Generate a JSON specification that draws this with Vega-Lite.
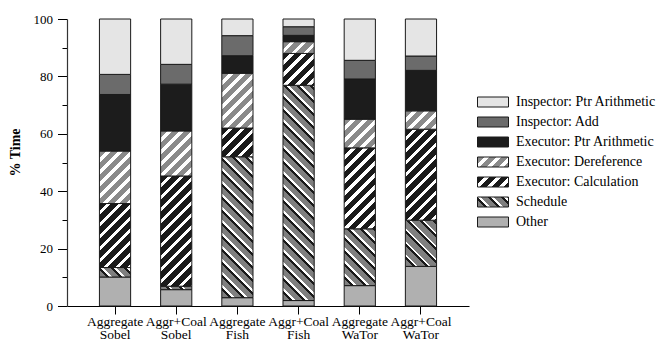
{
  "$schema": "https://vega.github.io/schema/vega-lite/v6.json",
  "width": 402,
  "height": 287,
  "autosize": "none",
  "padding": {"left": 67, "top": 19, "right": 190, "bottom": 36},
  "background": "white",
  "config": {"view": {"stroke": null}, "font": "Liberation Serif"},
  "params": [
    {"name": "calcStops", "value": [
      {"offset":0,"color":"#1a1a1a"},{"offset":0.031,"color":"#1a1a1a"},{"offset":0.031,"color":"#ffffff"},{"offset":0.05,"color":"#ffffff"},
      {"offset":0.05,"color":"#1a1a1a"},{"offset":0.081,"color":"#1a1a1a"},{"offset":0.081,"color":"#ffffff"},{"offset":0.1,"color":"#ffffff"},
      {"offset":0.1,"color":"#1a1a1a"},{"offset":0.131,"color":"#1a1a1a"},{"offset":0.131,"color":"#ffffff"},{"offset":0.15,"color":"#ffffff"},
      {"offset":0.15,"color":"#1a1a1a"},{"offset":0.181,"color":"#1a1a1a"},{"offset":0.181,"color":"#ffffff"},{"offset":0.2,"color":"#ffffff"},
      {"offset":0.2,"color":"#1a1a1a"},{"offset":0.231,"color":"#1a1a1a"},{"offset":0.231,"color":"#ffffff"},{"offset":0.25,"color":"#ffffff"},
      {"offset":0.25,"color":"#1a1a1a"},{"offset":0.281,"color":"#1a1a1a"},{"offset":0.281,"color":"#ffffff"},{"offset":0.3,"color":"#ffffff"},
      {"offset":0.3,"color":"#1a1a1a"},{"offset":0.331,"color":"#1a1a1a"},{"offset":0.331,"color":"#ffffff"},{"offset":0.35,"color":"#ffffff"},
      {"offset":0.35,"color":"#1a1a1a"},{"offset":0.381,"color":"#1a1a1a"},{"offset":0.381,"color":"#ffffff"},{"offset":0.4,"color":"#ffffff"},
      {"offset":0.4,"color":"#1a1a1a"},{"offset":0.431,"color":"#1a1a1a"},{"offset":0.431,"color":"#ffffff"},{"offset":0.45,"color":"#ffffff"},
      {"offset":0.45,"color":"#1a1a1a"},{"offset":0.481,"color":"#1a1a1a"},{"offset":0.481,"color":"#ffffff"},{"offset":0.5,"color":"#ffffff"},
      {"offset":0.5,"color":"#1a1a1a"},{"offset":0.531,"color":"#1a1a1a"},{"offset":0.531,"color":"#ffffff"},{"offset":0.55,"color":"#ffffff"},
      {"offset":0.55,"color":"#1a1a1a"},{"offset":0.581,"color":"#1a1a1a"},{"offset":0.581,"color":"#ffffff"},{"offset":0.6,"color":"#ffffff"},
      {"offset":0.6,"color":"#1a1a1a"},{"offset":0.631,"color":"#1a1a1a"},{"offset":0.631,"color":"#ffffff"},{"offset":0.65,"color":"#ffffff"}
    ]},
    {"name": "derefStops", "value": [
      {"offset":0,"color":"#8a8a8a"},{"offset":0.031,"color":"#8a8a8a"},{"offset":0.031,"color":"#ffffff"},{"offset":0.05,"color":"#ffffff"},
      {"offset":0.05,"color":"#8a8a8a"},{"offset":0.081,"color":"#8a8a8a"},{"offset":0.081,"color":"#ffffff"},{"offset":0.1,"color":"#ffffff"},
      {"offset":0.1,"color":"#8a8a8a"},{"offset":0.131,"color":"#8a8a8a"},{"offset":0.131,"color":"#ffffff"},{"offset":0.15,"color":"#ffffff"},
      {"offset":0.15,"color":"#8a8a8a"},{"offset":0.181,"color":"#8a8a8a"},{"offset":0.181,"color":"#ffffff"},{"offset":0.2,"color":"#ffffff"},
      {"offset":0.2,"color":"#8a8a8a"},{"offset":0.231,"color":"#8a8a8a"},{"offset":0.231,"color":"#ffffff"},{"offset":0.25,"color":"#ffffff"},
      {"offset":0.25,"color":"#8a8a8a"},{"offset":0.281,"color":"#8a8a8a"},{"offset":0.281,"color":"#ffffff"},{"offset":0.3,"color":"#ffffff"},
      {"offset":0.3,"color":"#8a8a8a"},{"offset":0.331,"color":"#8a8a8a"},{"offset":0.331,"color":"#ffffff"},{"offset":0.35,"color":"#ffffff"},
      {"offset":0.35,"color":"#8a8a8a"},{"offset":0.381,"color":"#8a8a8a"},{"offset":0.381,"color":"#ffffff"},{"offset":0.4,"color":"#ffffff"},
      {"offset":0.4,"color":"#8a8a8a"},{"offset":0.431,"color":"#8a8a8a"},{"offset":0.431,"color":"#ffffff"},{"offset":0.45,"color":"#ffffff"}
    ]},
    {"name": "schedStops", "value": [
      {"offset":0,"color":"#7f7f7f"},{"offset":0.028,"color":"#7f7f7f"},{"offset":0.028,"color":"#1a1a1a"},{"offset":0.039,"color":"#1a1a1a"},{"offset":0.039,"color":"#ffffff"},{"offset":0.05,"color":"#ffffff"},
      {"offset":0.05,"color":"#7f7f7f"},{"offset":0.078,"color":"#7f7f7f"},{"offset":0.078,"color":"#1a1a1a"},{"offset":0.089,"color":"#1a1a1a"},{"offset":0.089,"color":"#ffffff"},{"offset":0.1,"color":"#ffffff"},
      {"offset":0.1,"color":"#7f7f7f"},{"offset":0.128,"color":"#7f7f7f"},{"offset":0.128,"color":"#1a1a1a"},{"offset":0.139,"color":"#1a1a1a"},{"offset":0.139,"color":"#ffffff"},{"offset":0.15,"color":"#ffffff"},
      {"offset":0.15,"color":"#7f7f7f"},{"offset":0.178,"color":"#7f7f7f"},{"offset":0.178,"color":"#1a1a1a"},{"offset":0.189,"color":"#1a1a1a"},{"offset":0.189,"color":"#ffffff"},{"offset":0.2,"color":"#ffffff"},
      {"offset":0.2,"color":"#7f7f7f"},{"offset":0.228,"color":"#7f7f7f"},{"offset":0.228,"color":"#1a1a1a"},{"offset":0.239,"color":"#1a1a1a"},{"offset":0.239,"color":"#ffffff"},{"offset":0.25,"color":"#ffffff"},
      {"offset":0.25,"color":"#7f7f7f"},{"offset":0.278,"color":"#7f7f7f"},{"offset":0.278,"color":"#1a1a1a"},{"offset":0.289,"color":"#1a1a1a"},{"offset":0.289,"color":"#ffffff"},{"offset":0.3,"color":"#ffffff"},
      {"offset":0.3,"color":"#7f7f7f"},{"offset":0.328,"color":"#7f7f7f"},{"offset":0.328,"color":"#1a1a1a"},{"offset":0.339,"color":"#1a1a1a"},{"offset":0.339,"color":"#ffffff"},{"offset":0.35,"color":"#ffffff"},
      {"offset":0.35,"color":"#7f7f7f"},{"offset":0.378,"color":"#7f7f7f"},{"offset":0.378,"color":"#1a1a1a"},{"offset":0.389,"color":"#1a1a1a"},{"offset":0.389,"color":"#ffffff"},{"offset":0.4,"color":"#ffffff"},
      {"offset":0.4,"color":"#7f7f7f"},{"offset":0.428,"color":"#7f7f7f"},{"offset":0.428,"color":"#1a1a1a"},{"offset":0.439,"color":"#1a1a1a"},{"offset":0.439,"color":"#ffffff"},{"offset":0.45,"color":"#ffffff"},
      {"offset":0.45,"color":"#7f7f7f"},{"offset":0.478,"color":"#7f7f7f"},{"offset":0.478,"color":"#1a1a1a"},{"offset":0.489,"color":"#1a1a1a"},{"offset":0.489,"color":"#ffffff"},{"offset":0.5,"color":"#ffffff"},
      {"offset":0.5,"color":"#7f7f7f"},{"offset":0.528,"color":"#7f7f7f"},{"offset":0.528,"color":"#1a1a1a"},{"offset":0.539,"color":"#1a1a1a"},{"offset":0.539,"color":"#ffffff"},{"offset":0.55,"color":"#ffffff"},
      {"offset":0.55,"color":"#7f7f7f"},{"offset":0.578,"color":"#7f7f7f"},{"offset":0.578,"color":"#1a1a1a"},{"offset":0.589,"color":"#1a1a1a"},{"offset":0.589,"color":"#ffffff"},{"offset":0.6,"color":"#ffffff"},
      {"offset":0.6,"color":"#7f7f7f"},{"offset":0.628,"color":"#7f7f7f"},{"offset":0.628,"color":"#1a1a1a"},{"offset":0.639,"color":"#1a1a1a"},{"offset":0.639,"color":"#ffffff"},{"offset":0.65,"color":"#ffffff"},
      {"offset":0.65,"color":"#7f7f7f"},{"offset":0.678,"color":"#7f7f7f"},{"offset":0.678,"color":"#1a1a1a"},{"offset":0.689,"color":"#1a1a1a"},{"offset":0.689,"color":"#ffffff"},{"offset":0.7,"color":"#ffffff"},
      {"offset":0.7,"color":"#7f7f7f"},{"offset":0.728,"color":"#7f7f7f"},{"offset":0.728,"color":"#1a1a1a"},{"offset":0.739,"color":"#1a1a1a"},{"offset":0.739,"color":"#ffffff"},{"offset":0.75,"color":"#ffffff"},
      {"offset":0.75,"color":"#7f7f7f"},{"offset":0.778,"color":"#7f7f7f"},{"offset":0.778,"color":"#1a1a1a"},{"offset":0.789,"color":"#1a1a1a"},{"offset":0.789,"color":"#ffffff"},{"offset":0.8,"color":"#ffffff"},
      {"offset":0.8,"color":"#7f7f7f"},{"offset":0.828,"color":"#7f7f7f"},{"offset":0.828,"color":"#1a1a1a"},{"offset":0.839,"color":"#1a1a1a"},{"offset":0.839,"color":"#ffffff"},{"offset":0.85,"color":"#ffffff"},
      {"offset":0.85,"color":"#7f7f7f"},{"offset":0.878,"color":"#7f7f7f"},{"offset":0.878,"color":"#1a1a1a"},{"offset":0.889,"color":"#1a1a1a"},{"offset":0.889,"color":"#ffffff"},{"offset":0.9,"color":"#ffffff"},
      {"offset":0.9,"color":"#7f7f7f"},{"offset":0.928,"color":"#7f7f7f"},{"offset":0.928,"color":"#1a1a1a"},{"offset":0.939,"color":"#1a1a1a"},{"offset":0.939,"color":"#ffffff"},{"offset":0.95,"color":"#ffffff"},
      {"offset":0.95,"color":"#7f7f7f"},{"offset":0.978,"color":"#7f7f7f"},{"offset":0.978,"color":"#1a1a1a"},{"offset":0.989,"color":"#1a1a1a"},{"offset":0.989,"color":"#ffffff"},{"offset":1,"color":"#ffffff"}
    ]}
  ],
  "data": {"values": [
    {"bench":"Aggregate|Sobel","series":"Other","layer":1,"pct":10.1},
    {"bench":"Aggregate|Sobel","series":"Schedule","layer":2,"pct":3.3},
    {"bench":"Aggregate|Sobel","series":"Executor: Calculation","layer":3,"pct":22.3},
    {"bench":"Aggregate|Sobel","series":"Executor: Dereference","layer":4,"pct":18.3},
    {"bench":"Aggregate|Sobel","series":"Executor: Ptr Arithmetic","layer":5,"pct":19.7},
    {"bench":"Aggregate|Sobel","series":"Inspector: Add","layer":6,"pct":7.0},
    {"bench":"Aggregate|Sobel","series":"Inspector: Ptr Arithmetic","layer":7,"pct":19.3},
    {"bench":"Aggr+Coal|Sobel","series":"Other","layer":1,"pct":5.7},
    {"bench":"Aggr+Coal|Sobel","series":"Schedule","layer":2,"pct":1.2},
    {"bench":"Aggr+Coal|Sobel","series":"Executor: Calculation","layer":3,"pct":38.4},
    {"bench":"Aggr+Coal|Sobel","series":"Executor: Dereference","layer":4,"pct":15.7},
    {"bench":"Aggr+Coal|Sobel","series":"Executor: Ptr Arithmetic","layer":5,"pct":16.3},
    {"bench":"Aggr+Coal|Sobel","series":"Inspector: Add","layer":6,"pct":6.9},
    {"bench":"Aggr+Coal|Sobel","series":"Inspector: Ptr Arithmetic","layer":7,"pct":15.8},
    {"bench":"Aggregate|Fish","series":"Other","layer":1,"pct":2.9},
    {"bench":"Aggregate|Fish","series":"Schedule","layer":2,"pct":49.1},
    {"bench":"Aggregate|Fish","series":"Executor: Calculation","layer":3,"pct":10.0},
    {"bench":"Aggregate|Fish","series":"Executor: Dereference","layer":4,"pct":19.1},
    {"bench":"Aggregate|Fish","series":"Executor: Ptr Arithmetic","layer":5,"pct":6.1},
    {"bench":"Aggregate|Fish","series":"Inspector: Add","layer":6,"pct":7.0},
    {"bench":"Aggregate|Fish","series":"Inspector: Ptr Arithmetic","layer":7,"pct":5.8},
    {"bench":"Aggr+Coal|Fish","series":"Other","layer":1,"pct":1.9},
    {"bench":"Aggr+Coal|Fish","series":"Schedule","layer":2,"pct":75.0},
    {"bench":"Aggr+Coal|Fish","series":"Executor: Calculation","layer":3,"pct":11.1},
    {"bench":"Aggr+Coal|Fish","series":"Executor: Dereference","layer":4,"pct":4.1},
    {"bench":"Aggr+Coal|Fish","series":"Executor: Ptr Arithmetic","layer":5,"pct":2.2},
    {"bench":"Aggr+Coal|Fish","series":"Inspector: Add","layer":6,"pct":3.0},
    {"bench":"Aggr+Coal|Fish","series":"Inspector: Ptr Arithmetic","layer":7,"pct":2.7},
    {"bench":"Aggregate|WaTor","series":"Other","layer":1,"pct":7.1},
    {"bench":"Aggregate|WaTor","series":"Schedule","layer":2,"pct":19.8},
    {"bench":"Aggregate|WaTor","series":"Executor: Calculation","layer":3,"pct":28.2},
    {"bench":"Aggregate|WaTor","series":"Executor: Dereference","layer":4,"pct":10.0},
    {"bench":"Aggregate|WaTor","series":"Executor: Ptr Arithmetic","layer":5,"pct":14.0},
    {"bench":"Aggregate|WaTor","series":"Inspector: Add","layer":6,"pct":6.5},
    {"bench":"Aggregate|WaTor","series":"Inspector: Ptr Arithmetic","layer":7,"pct":14.4},
    {"bench":"Aggr+Coal|WaTor","series":"Other","layer":1,"pct":13.8},
    {"bench":"Aggr+Coal|WaTor","series":"Schedule","layer":2,"pct":16.1},
    {"bench":"Aggr+Coal|WaTor","series":"Executor: Calculation","layer":3,"pct":31.7},
    {"bench":"Aggr+Coal|WaTor","series":"Executor: Dereference","layer":4,"pct":6.4},
    {"bench":"Aggr+Coal|WaTor","series":"Executor: Ptr Arithmetic","layer":5,"pct":14.1},
    {"bench":"Aggr+Coal|WaTor","series":"Inspector: Add","layer":6,"pct":5.0},
    {"bench":"Aggr+Coal|WaTor","series":"Inspector: Ptr Arithmetic","layer":7,"pct":12.9}
  ]},
  "mark": {"type": "bar", "stroke": "#1a1a1a", "strokeWidth": 1},
  "encoding": {
    "x": {
      "field": "bench", "type": "nominal", "sort": null,
      "scale": {"paddingInner": 0.49, "paddingOuter": 0.53},
      "axis": {
        "title": null, "labelExpr": "split(datum.label, '|')", "labelAngle": 0,
        "labelFont": "Liberation Serif", "labelFontSize": 13.5, "labelColor": "#000",
        "labelLineHeight": 13.5, "labelPadding": 0, "labelBaseline": "top", "labelOverlap": false, "labelLimit": 200,
        "tickSize": 8, "tickColor": "#000", "domainColor": "#000", "grid": false
      }
    },
    "y": {
      "field": "pct", "type": "quantitative", "stack": "zero",
      "scale": {"domain": [0, 100], "nice": false},
      "axis": {
        "title": "% Time", "titleFont": "Liberation Serif", "titleFontSize": 14, "titleFontWeight": "bold", "titleColor": "#000", "titlePadding": 11,
        "titleY": 133,
        "values": [0, 10, 20, 30, 40, 50, 60, 70, 80, 90, 100],
        "labelExpr": "datum.value % 20 === 0 ? datum.label : ''",
        "labelFont": "Liberation Serif", "labelFontSize": 13, "labelColor": "#000", "labelPadding": 5,
        "tickSize": {"condition": {"test": "datum.value % 20 === 0", "value": 9.5}, "value": 5},
        "tickColor": "#000", "domainColor": "#333", "domainWidth": 1.2, "grid": false
      }
    },
    "order": {"field": "layer", "type": "quantitative", "sort": "ascending"},
    "fill": {
      "field": "series", "type": "nominal",
      "condition": [
        {"test": "datum.series === 'Executor: Calculation'", "value": {"expr": "{gradient:'linear',x1:0,y1:0,x2:bandwidth('x')*240/(bandwidth('x')*bandwidth('x')+pow(scale('y',datum.pct_start)-scale('y',datum.pct_end),2)),y2:(scale('y',datum.pct_start)-scale('y',datum.pct_end))*240/(bandwidth('x')*bandwidth('x')+pow(scale('y',datum.pct_start)-scale('y',datum.pct_end),2)),stops:calcStops}"}},
        {"test": "datum.series === 'Executor: Dereference'", "value": {"expr": "{gradient:'linear',x1:0,y1:0,x2:bandwidth('x')*240/(bandwidth('x')*bandwidth('x')+pow(scale('y',datum.pct_start)-scale('y',datum.pct_end),2)),y2:(scale('y',datum.pct_start)-scale('y',datum.pct_end))*240/(bandwidth('x')*bandwidth('x')+pow(scale('y',datum.pct_start)-scale('y',datum.pct_end),2)),stops:derefStops}"}},
        {"test": "datum.series === 'Schedule'", "value": {"expr": "{gradient:'linear',x1:0,y1:1,x2:bandwidth('x')*260/(bandwidth('x')*bandwidth('x')+pow(scale('y',datum.pct_start)-scale('y',datum.pct_end),2)),y2:1-(scale('y',datum.pct_start)-scale('y',datum.pct_end))*260/(bandwidth('x')*bandwidth('x')+pow(scale('y',datum.pct_start)-scale('y',datum.pct_end),2)),stops:schedStops}"}}
      ],
      "scale": {
        "domain": ["Inspector: Ptr Arithmetic", "Inspector: Add", "Executor: Ptr Arithmetic", "Executor: Dereference", "Executor: Calculation", "Schedule", "Other"],
        "range": [
          "#e5e5e5", "#6b6b6b", "#1c1c1c",
          {"expr": "{gradient:'linear',x1:0,y1:0,x2:7.012,y2:2.262,stops:derefStops}"},
          {"expr": "{gradient:'linear',x1:0,y1:0,x2:7.012,y2:2.262,stops:calcStops}"},
          {"expr": "{gradient:'linear',x1:0,y1:1,x2:7.597,y2:-1.4505,stops:schedStops}"},
          "#b0b0b0"
        ]
      },
      "legend": {
        "orient": "none", "legendX": 419, "legendY": 76, "title": null, "padding": 0,
        "symbolType": "M-3.1,-1H3.1V1H-3.1Z", "symbolSize": 100,
        "symbolStrokeColor": "#1a1a1a", "symbolStrokeWidth": 1, "symbolOpacity": 1,
        "labelFont": "Liberation Serif", "labelFontSize": 14, "labelColor": "#000", "labelOffset": 16, "labelLimit": 300,
        "rowPadding": 6
      }
    }
  }
}
